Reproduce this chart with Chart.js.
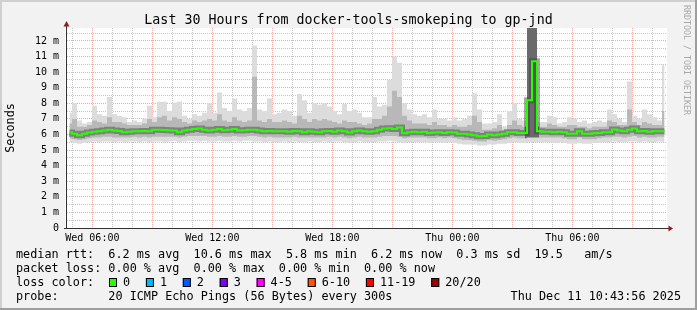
<!DOCTYPE html>
<html>
<head>
<meta charset="utf-8">
<title>smokeping gp-jnd</title>
<script src="https://cdn.jsdelivr.net/npm/chart.js@4.4.1/dist/chart.umd.min.js"></script>
<style>
    html, body { margin: 0; padding: 0; background: #f2f2f2; }
    canvas { display: block; }
</style>
</head>
<body>
<canvas id="smoke" width="697" height="310"></canvas>
<script>
// time axis in hours counted from Wed 00:00
var startHour = 4.732;   // Wed 04:43:56
var endHour = 34.732;    // Thu 10:43:56
var stepHours = 0.25;

// rtt in ms, one value per 15 minutes
var medianRtt = [
    6.13, 6.05, 5.95, 6.05, 6.12, 6.17, 6.2, 6.26, 6.3, 6.25,
    6.22, 6.15, 6.18, 6.2, 6.2, 6.22, 6.2, 6.3, 6.3, 6.28,
    6.27, 6.25, 6.15, 6.25, 6.3, 6.35, 6.38, 6.3, 6.25, 6.3,
    6.35, 6.27, 6.3, 6.35, 6.25, 6.27, 6.3, 6.3, 6.25, 6.2,
    6.22, 6.2, 6.2, 6.2, 6.18, 6.22, 6.2, 6.15, 6.2, 6.17,
    6.15, 6.2, 6.22, 6.18, 6.25, 6.2, 6.12, 6.2, 6.25, 6.2,
    6.17, 6.2, 6.3, 6.38, 6.4, 6.35, 6.45, 6.08, 6.15, 6.17,
    6.15, 6.17, 6.1, 6.12, 6.15, 6.1, 6.15, 6.12, 6.05, 6.05,
    6.0, 5.95, 5.88, 5.9, 6.0, 5.95, 6.0, 6.05, 6.15, 6.15,
    6.1, 6.1, 8.2, 10.7, 6.2, 6.17, 6.17, 6.15, 6.17, 6.15,
    6.05, 6.05, 6.2, 6.05, 6.05, 6.08, 6.1, 6.15, 6.15, 6.32,
    6.25, 6.2, 6.3, 6.38, 6.2, 6.22, 6.18, 6.2, 6.2, 6.2
];
var minRtt = [
    5.5, 5.45, 5.4, 5.45, 5.5, 5.55, 5.5, 5.55, 5.55, 5.5,
    5.55, 5.5, 5.55, 5.55, 5.5, 5.55, 5.5, 5.55, 5.55, 5.5,
    5.55, 5.6, 5.5, 5.55, 5.6, 5.6, 5.55, 5.6, 5.55, 5.55,
    5.6, 5.55, 5.55, 5.6, 5.55, 5.6, 5.6, 5.55, 5.55, 5.5,
    5.55, 5.5, 5.5, 5.55, 5.5, 5.55, 5.5, 5.5, 5.55, 5.5,
    5.5, 5.55, 5.5, 5.55, 5.55, 5.5, 5.45, 5.5, 5.55, 5.5,
    5.5, 5.5, 5.55, 5.55, 5.6, 5.55, 5.5, 5.45, 5.5, 5.5,
    5.5, 5.5, 5.45, 5.5, 5.5, 5.45, 5.5, 5.45, 5.4, 5.35,
    5.35, 5.35, 5.3, 5.3, 5.35, 5.35, 5.4, 5.4, 5.45, 5.5,
    5.45, 5.45, 5.5, 5.5, 5.5, 5.5, 5.5, 5.45, 5.5, 5.45,
    5.4, 5.4, 5.45, 5.4, 5.4, 5.45, 5.45, 5.5, 5.5, 5.55,
    5.5, 5.5, 5.55, 5.55, 5.5, 5.55, 5.5, 5.5, 5.55, 5.5
];
var loMid = [
    5.75, 5.7, 5.65, 5.7, 5.75, 5.8, 5.8, 5.85, 5.85, 5.8,
    5.8, 5.8, 5.8, 5.85, 5.8, 5.85, 5.8, 5.85, 5.85, 5.85,
    5.85, 5.85, 5.8, 5.85, 5.9, 5.9, 5.9, 5.9, 5.85, 5.85,
    5.9, 5.85, 5.85, 5.9, 5.85, 5.85, 5.9, 5.9, 5.85, 5.8,
    5.85, 5.8, 5.8, 5.8, 5.8, 5.85, 5.8, 5.8, 5.8, 5.8,
    5.8, 5.8, 5.85, 5.8, 5.85, 5.8, 5.75, 5.8, 5.85, 5.8,
    5.8, 5.8, 5.85, 5.9, 5.9, 5.9, 5.85, 5.75, 5.8, 5.8,
    5.8, 5.8, 5.75, 5.75, 5.8, 5.75, 5.8, 5.75, 5.7, 5.65,
    5.65, 5.6, 5.55, 5.55, 5.65, 5.6, 5.65, 5.7, 5.75, 5.8,
    5.75, 5.75, 5.8, 5.8, 5.8, 5.8, 5.8, 5.8, 5.8, 5.75,
    5.7, 5.7, 5.8, 5.7, 5.7, 5.7, 5.75, 5.8, 5.8, 5.85,
    5.85, 5.8, 5.85, 5.9, 5.8, 5.85, 5.8, 5.8, 5.85, 5.85
];
var hiMid = [
    6.7, 7.0, 6.5, 6.5, 6.6, 6.9, 6.8, 6.7, 7.1, 6.8,
    6.8, 6.7, 6.6, 6.6, 6.6, 6.7, 7.0, 6.8, 7.1, 7.2,
    6.9, 7.1, 7.0, 6.8, 6.7, 6.9, 6.8, 6.9, 7.0, 6.9,
    7.3, 6.9, 6.8, 7.1, 6.9, 6.8, 6.9, 9.7, 6.9, 6.8,
    7.0, 6.8, 6.8, 6.9, 6.8, 6.7, 7.2, 7.0, 6.8, 7.0,
    6.9, 7.0, 6.9, 6.8, 6.7, 6.9, 6.8, 6.8, 6.7, 6.6,
    6.7, 7.0, 7.0, 7.2, 7.8, 8.8, 8.4, 7.2, 6.9, 6.7,
    6.7, 6.7, 6.6, 6.8, 6.6, 6.6, 6.5, 6.6, 6.5, 6.5,
    6.6, 7.2, 6.8, 6.3, 6.3, 6.4, 6.6, 6.3, 6.6, 6.9,
    6.6, 6.5, 13, 13, 6.5, 6.5, 6.7, 6.6, 6.5, 6.5,
    6.6, 6.6, 6.5, 6.5, 6.4, 6.5, 6.5, 6.5, 6.9, 6.8,
    6.6, 6.6, 7.6, 6.8, 6.6, 6.8, 6.7, 6.6, 6.6, 7.5
];
var maxRtt = [
    7.4, 8.0, 6.9, 6.7, 6.8, 7.85, 7.3, 7.2, 8.4, 7.3,
    7.2, 7.1, 6.8, 6.9, 6.8, 7.0, 7.85, 7.1, 8.1, 8.1,
    7.5, 8.05, 8.1, 7.2, 7.0, 7.3, 7.2, 7.4, 8.0, 7.4,
    8.7, 7.7, 7.5, 8.3, 7.6, 7.5, 7.7, 11.7, 7.6, 7.5,
    8.3, 7.3, 7.4, 7.6, 7.5, 7.2, 8.6, 8.2, 7.4, 8.0,
    7.9, 8.0, 7.8, 7.5, 7.3, 7.95, 7.5, 7.6, 7.4, 7.1,
    7.1, 8.4, 7.8, 7.9, 9.5, 11.0, 10.6, 8.0, 7.6, 7.3,
    7.2, 7.3, 7.1, 7.6, 7.0, 7.0, 6.9, 7.1, 6.9, 7.0,
    7.2, 8.65, 7.6, 6.7, 6.7, 6.8, 7.3, 6.5, 7.5, 8.0,
    7.0, 6.9, 13, 13, 6.8, 6.8, 7.2, 7.1, 6.7, 6.8,
    7.1, 7.0, 6.8, 6.9, 6.7, 6.8, 6.9, 6.8, 7.6, 7.3,
    7.0, 6.8, 9.4, 7.2, 7.0, 7.6, 7.3, 7.1, 6.9, 10.5
];

var xTickHours = [6, 12, 18, 24, 30];
var xTickLabels = ['Wed 06:00', 'Wed 12:00', 'Wed 18:00', 'Thu 00:00', 'Thu 06:00'];
var yTickValues = [0, 1, 2, 3, 4, 5, 6, 7, 8, 9, 10, 11, 12];
var yTickLabels = ['0', '1 m', '2 m', '3 m', '4 m', '5 m', '6 m', '7 m', '8 m', '9 m', '10 m', '11 m', '12 m'];

var lossLabels = ['0', '1', '2', '3', '4-5', '6-10', '11-19', '20/20'];
var lossColors = ['#26ff00', '#00b8ff', '#0059ff', '#7e00ff', '#ff00ff', '#ff5500', '#ff0000', '#a10000'];

var titleText = 'Last 30 Hours from docker-tools-smokeping to gp-jnd';
var statLines = [
    'median rtt:  6.2 ms avg  10.6 ms max  5.8 ms min  6.2 ms now  0.3 ms sd  19.5   am/s',
    'packet loss: 0.00 % avg  0.00 % max  0.00 % min  0.00 % now'
];
var probeText = 'probe:       20 ICMP Echo Pings (56 Bytes) every 300s';
var stampText = 'Thu Dec 11 10:43:56 2025';

var MONO = '"DejaVu Sans Mono", "Liberation Mono", monospace';
var GRID_GRAY = 'rgba(140,140,140,0.5)';
var GRID_RED = 'rgba(225,70,60,0.45)';
var ARROW = '#921c1c';

function toPoints(values) {
    return values.map(function (v, i) {
        return { x: startHour + stepHours * (i + 0.5), y: v };
    });
}

function band(values, extra) {
    var ds = {
        data: toPoints(values),
        stepped: 'middle',
        borderWidth: 0,
        borderColor: 'rgba(0,0,0,0)',
        pointRadius: 0,
        fill: false
    };
    for (var k in extra) ds[k] = extra[k];
    return ds;
}

// the burst where all pings are slow is drawn darker
function burstShade(c) {
    var a = hiMid[c.p0DataIndex], b = hiMid[c.p1DataIndex];
    return (a > 12 || b > 12) ? '#6a6a6a' : undefined;
}

var frame = {
    id: 'frame',
    beforeDraw: function (chart) {
        var ctx = chart.ctx, a = chart.chartArea;
        var w = chart.width, h = chart.height;
        ctx.save();
        ctx.fillStyle = '#f2f2f2';
        ctx.fillRect(0, 0, w, h);
        // 3d border like rrdtool
        ctx.fillStyle = '#cfcfcf';
        ctx.fillRect(0, 0, w, 2);
        ctx.fillRect(0, 0, 2, h);
        ctx.fillStyle = '#9e9e9e';
        ctx.fillRect(w - 2, 0, 2, h);
        ctx.fillRect(0, h - 2, w, 2);
        ctx.fillStyle = '#ffffff';
        ctx.fillRect(a.left - 2, a.top, a.right - a.left + 2, a.bottom - a.top);
        ctx.restore();
    },
    afterDraw: function (chart) {
        var ctx = chart.ctx, a = chart.chartArea;
        ctx.save();

        // axes and arrows
        ctx.strokeStyle = '#333';
        ctx.lineWidth = 1;
        ctx.beginPath();
        ctx.moveTo(a.left - 0.5, a.bottom + 1);
        ctx.lineTo(a.left - 0.5, a.top - 4);
        ctx.moveTo(a.left - 3, a.bottom + 0.5);
        ctx.lineTo(a.right + 3, a.bottom + 0.5);
        ctx.stroke();
        ctx.fillStyle = ARROW;
        ctx.beginPath();
        ctx.moveTo(a.left - 0.5, a.top - 7);
        ctx.lineTo(a.left - 3.5, a.top - 1.5);
        ctx.lineTo(a.left + 2.5, a.top - 1.5);
        ctx.closePath();
        ctx.fill();
        ctx.beginPath();
        ctx.moveTo(a.right + 6, a.bottom + 0.5);
        ctx.lineTo(a.right + 1.5, a.bottom - 2.5);
        ctx.lineTo(a.right + 1.5, a.bottom + 3.5);
        ctx.closePath();
        ctx.fill();

        ctx.fillStyle = '#000';
        ctx.textBaseline = 'alphabetic';

        // title
        ctx.font = '13.3px ' + MONO;
        ctx.textAlign = 'center';
        ctx.fillText(titleText, chart.width / 2, 24);

        // y axis name
        ctx.font = '11.8px ' + MONO;
        ctx.save();
        ctx.translate(14, (a.top + a.bottom) / 2);
        ctx.rotate(-Math.PI / 2);
        ctx.fillText('Seconds', 0, 0);
        ctx.restore();

        // watermark
        ctx.save();
        ctx.font = '8.3px ' + MONO;
        ctx.fillStyle = '#a8a8a8';
        ctx.textAlign = 'left';
        ctx.translate(684, 5);
        ctx.rotate(Math.PI / 2);
        ctx.fillText('RRDTOOL / TOBI OETIKER', 0, 0);
        ctx.restore();

        // legend block
        ctx.font = '11.8px ' + MONO;
        ctx.textAlign = 'left';
        ctx.fillText(statLines[0], 16, 258);
        ctx.fillText(statLines[1], 16, 272);
        ctx.fillText('loss color:', 16, 286);
        var bx = 109;
        for (var i = 0; i < lossLabels.length; i++) {
            ctx.fillStyle = lossColors[i];
            ctx.fillRect(bx, 278, 8, 9);
            ctx.strokeStyle = '#000';
            ctx.strokeRect(bx + 0.5, 278.5, 7, 8);
            ctx.fillStyle = '#000';
            ctx.fillText(lossLabels[i], bx + 14, 286);
            bx = bx + 14 + ctx.measureText(lossLabels[i]).width + 15.8;
        }
        ctx.fillText(probeText, 16, 300);
        ctx.textAlign = 'right';
        ctx.fillText(stampText, 681, 300);

        ctx.restore();
    }
};

Chart.defaults.font.family = MONO;
Chart.defaults.font.size = 10;
Chart.defaults.color = '#000';

var ctx = document.getElementById('smoke').getContext('2d');
new Chart(ctx, {
    type: 'line',
    plugins: [frame],
    data: {
        datasets: [
            band(medianRtt, { borderColor: '#26ff00', borderWidth: 2, order: 0 }),
            band(medianRtt, { borderColor: 'rgba(60,60,60,0.45)', borderWidth: 6, order: 1 }),
            band(hiMid, { fill: 3, backgroundColor: '#b8b8b8', segment: { backgroundColor: burstShade }, order: 2 }),
            band(loMid, { order: 3 }),
            band(maxRtt, { fill: 5, backgroundColor: '#dcdcdc', order: 4 }),
            band(minRtt, { order: 5 })
        ]
    },
    options: {
        responsive: false,
        animation: false,
        devicePixelRatio: 1,
        events: [],
        layout: { padding: { top: 28, right: 30, left: 0, bottom: 0 } },
        plugins: {
            legend: { display: false },
            title: { display: false },
            tooltip: { enabled: false }
        },
        scales: {
            x: {
                type: 'linear',
                min: startHour,
                max: endHour,
                afterBuildTicks: function (scale) {
                    var t = [];
                    for (var hr = 5; hr <= 34; hr++) t.push({ value: hr });
                    scale.ticks = t;
                },
                afterFit: function (scale) { scale.height = 82; },
                ticks: {
                    autoSkip: false,
                    maxRotation: 0,
                    padding: 4,
                    font: { size: 10 },
                    callback: function (v) {
                        var k = xTickHours.indexOf(v);
                        return k < 0 ? '' : xTickLabels[k];
                    }
                },
                grid: {
                    drawTicks: false,
                    lineWidth: 1,
                    color: function (c) {
                        return c.tick && c.tick.value % 3 === 0 ? GRID_RED : GRID_GRAY;
                    }
                },
                border: { display: false, dash: [1, 1] }
            },
            y: {
                type: 'linear',
                min: 0,
                max: 12.83,
                afterBuildTicks: function (scale) {
                    var t = [];
                    for (var v = 0; v <= 12.5; v += 0.5) t.push({ value: v });
                    scale.ticks = t;
                },
                afterFit: function (scale) { scale.width = 67; },
                ticks: {
                    autoSkip: false,
                    padding: 8,
                    font: { size: 10 },
                    callback: function (v) {
                        var k = yTickValues.indexOf(v);
                        return k < 0 ? '' : yTickLabels[k];
                    }
                },
                grid: {
                    drawTicks: false,
                    lineWidth: 1,
                    color: function (c) {
                        return c.tick && c.tick.value % 1 === 0 ? GRID_RED : GRID_GRAY;
                    }
                },
                border: { display: false, dash: [1, 1] }
            }
        }
    }
});
</script>
</body>
</html>
